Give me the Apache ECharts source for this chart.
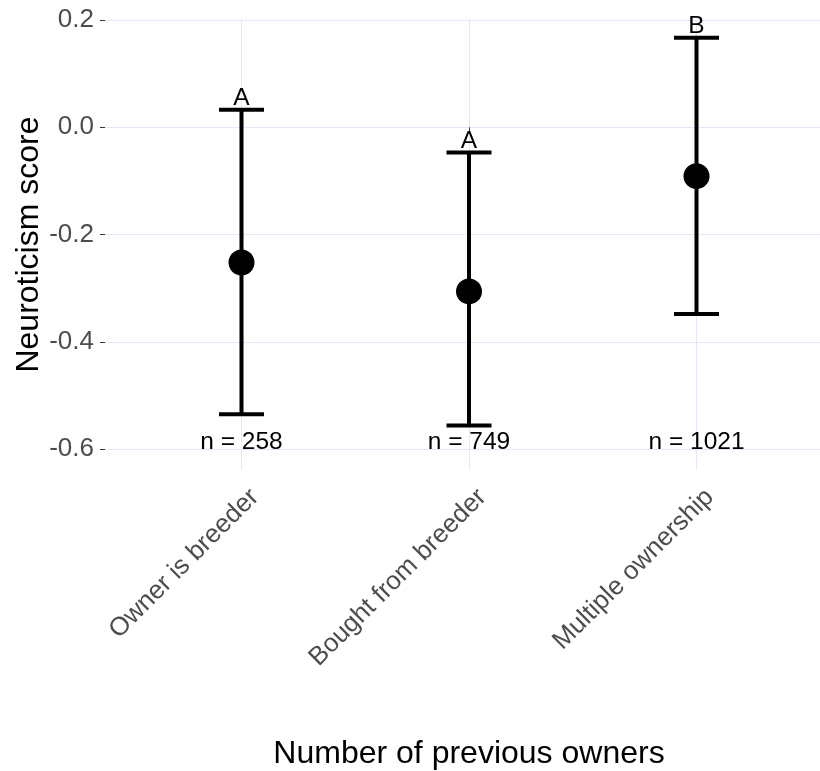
<!DOCTYPE html>
<html><head><meta charset="utf-8">
<script src="https://cdn.jsdelivr.net/npm/echarts@6/dist/echarts.min.js"></script>
<style>html,body{margin:0;padding:0;background:#fff}#c{width:820px;height:771px}</style>
</head><body><div id="c"></div>
<script>
const categories = ['Owner is breeder', 'Bought from breeder', 'Multiple ownership'];
const means = [-0.252, -0.306, -0.091];
const lowers = [-0.535, -0.556, -0.348];
const uppers = [0.033, -0.047, 0.167];
const letters = ['A', 'A', 'B'];
const nCounts = [258, 749, 1021];
const yTicks = [-0.6, -0.4, -0.2, 0.0, 0.2];
const xTicks = [1, 2, 3];
const nLabelY = -0.6;

const FONT = '"Liberation Sans", Arial, sans-serif';
const chart = echarts.init(document.getElementById('c'), null, {renderer: 'canvas'});
const data = categories.map((c, i) => [i + 1, means[i], lowers[i], uppers[i], i]);

const option = {
  animation: false,
  grid: {left: 105, top: 19, width: 728, height: 451, containLabel: false, outerBoundsMode: 'none'},
  xAxis: {
    type: 'value', min: 0.4, max: 3.6,
    name: 'Number of previous owners', nameLocation: 'middle', nameGap: 268, nameMoveOverlap: false,
    nameTextStyle: {fontFamily: FONT, fontSize: 32, color: '#000'},
    axisLine: {show: false},
    axisTick: {show: true, length: 5, customValues: xTicks, lineStyle: {color: '#333', width: 1}},
    axisLabel: {show: false, customValues: xTicks},
    splitLine: {show: true, lineStyle: {color: '#e6e6fa', width: 1}}
  },
  yAxis: {
    type: 'value', min: -0.639, max: 0.202,
    name: 'Neuroticism score', nameLocation: 'middle', nameGap: 60, nameRotate: 90, nameMoveOverlap: false,
    nameTextStyle: {fontFamily: FONT, fontSize: 32, color: '#000'},
    axisLine: {show: false},
    axisTick: {show: true, length: 5, customValues: yTicks, lineStyle: {color: '#333', width: 1}},
    axisLabel: {customValues: yTicks, formatter: v => v.toFixed(1),
      fontFamily: FONT, fontSize: 26, color: '#4d4d4d', margin: 11},
    splitLine: {show: true, lineStyle: {color: '#e6e6fa', width: 1}}
  },
  series: [{
    type: 'custom',
    data: data,
    clip: false,
    renderItem: function (params, api) {
      const x = api.value(0), m = api.value(1), lo = api.value(2), up = api.value(3), idx = api.value(4);
      const pm = api.coord([x, m]), pl = api.coord([x, lo]), pu = api.coord([x, up]);
      const pn = api.coord([x, nLabelY]);
      const cs = params.coordSys;
      const axisBottom = cs.y + cs.height;
      const hw = 22.5;
      const st = {stroke: '#000', lineWidth: 4};
      return {type: 'group', children: [
        {type: 'line', shape: {x1: pl[0], y1: pl[1], x2: pu[0], y2: pu[1]}, style: st},
        {type: 'line', shape: {x1: pu[0] - hw, y1: pu[1], x2: pu[0] + hw, y2: pu[1]}, style: st},
        {type: 'line', shape: {x1: pl[0] - hw, y1: pl[1], x2: pl[0] + hw, y2: pl[1]}, style: st},
        {type: 'circle', shape: {cx: pm[0], cy: pm[1], r: 13}, style: {fill: '#000'}},
        {type: 'text', x: pu[0], y: pu[1] + 1, style: {text: letters[idx], fill: '#000',
          fontFamily: FONT, fontSize: 24.5, align: 'center', verticalAlign: 'bottom'}},
        {type: 'text', x: pn[0], y: pn[1] + 6, style: {text: 'n = ' + nCounts[idx], fill: '#000',
          fontFamily: FONT, fontSize: 24.5, align: 'center', verticalAlign: 'bottom'}},
        {type: 'text', x: pm[0] + 4, y: axisBottom + 14, rotation: Math.PI / 4,
          style: {text: categories[idx], fill: '#4d4d4d', fontFamily: FONT, fontSize: 26,
            align: 'right', verticalAlign: 'top'}}
      ]};
    }
  }]
};
chart.setOption(option);
</script>
</body></html>
